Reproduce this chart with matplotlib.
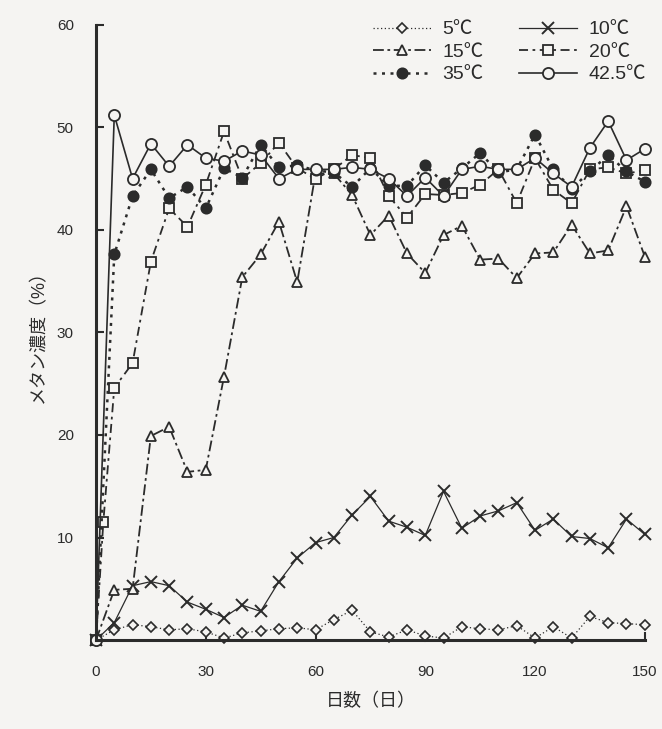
import matplotlib
matplotlib.use("Agg")
import matplotlib.pyplot as plt

plt.rcParams['font.family'] = ['Liberation Sans', 'Noto Sans CJK JP', 'DejaVu Sans']

# days sampled (every 5 days)
days = list(range(0, 155, 5))

t5 = [0, 1.0, 1.5, 1.3, 1.0, 1.1, 0.8, 0.2, 0.7, 0.9, 1.1, 1.2, 1.0, 2.0, 2.9, 0.8,
      0.3, 1.0, 0.4, 0.2, 1.3, 1.1, 1.0, 1.4, 0.2, 1.3, 0.2, 2.3, 1.7, 1.6, 1.5]
t10 = [0, 1.7, 5.3, 5.7, 5.3, 3.7, 3.0, 2.2, 3.4, 2.8, 5.7, 8.0, 9.5, 10.0, 12.2, 14.0,
       11.6, 11.0, 10.2, 14.5, 10.9, 12.1, 12.6, 13.4, 10.7, 11.8, 10.1, 9.9, 9.0, 11.8, 10.3]
t15 = [0, 4.9, 5.0, 19.9, 20.8, 16.4, 16.6, 25.7, 35.4, 37.6, 40.8, 34.9, 45.5, 45.5, 43.4, 39.5,
       41.4, 37.7, 35.8, 39.5, 40.4, 37.1, 37.2, 35.3, 37.7, 37.8, 40.5, 37.7, 38.0, 42.3, 37.4]
t20_days = [0, 2] + days[1:]
t20 = [0, 11.5, 24.6, 27.0, 36.9, 42.1, 40.3, 44.4, 49.6, 45.0, 46.5, 48.5, 46.0, 45.0, 45.9, 47.3,
       47.0, 43.3, 41.2, 43.5, 43.4, 43.6, 44.4, 45.9, 42.6, 47.0, 43.9, 42.6, 45.9, 46.1, 45.5, 45.8]
t35 = [0, 37.6, 43.3, 45.9, 43.1, 44.2, 42.1, 46.0, 45.1, 48.3, 46.1, 46.3, 45.8, 45.6, 44.2, 46.0,
       44.3, 44.3, 46.3, 44.6, 46.0, 47.5, 45.6, 45.9, 49.3, 45.9, 44.0, 45.7, 47.3, 45.7, 44.7]
t42 = [0, 51.2, 45.0, 48.4, 46.2, 48.3, 47.0, 46.7, 47.7, 47.3, 45.0, 45.9, 45.9, 45.9, 46.1, 45.9,
       45.0, 43.3, 45.1, 43.3, 45.9, 46.2, 45.9, 45.9, 47.0, 45.5, 44.2, 48.0, 50.6, 46.8, 47.9]

ink = '#2b2b2b'
bg = '#f5f4f2'

fig = plt.figure(figsize=(6.62, 7.29), dpi=100, facecolor=bg)
ax = fig.add_axes([0.145, 0.122, 0.829, 0.844], facecolor=bg)

common = dict(color=ink, markerfacecolor=bg, markeredgecolor=ink, clip_on=False)
l5, = ax.plot(days, t5, ls=(0, (1, 2)), lw=0.9, marker='D', ms=5, mew=1.2, label='5℃', **common)
l10, = ax.plot(days, t10, ls='-', lw=0.9, marker='x', ms=8, mew=1.4, label='10℃', **common)
l15, = ax.plot(days, t15, ls=(0, (6, 2, 1.5, 2)), lw=1.3, marker='^', ms=7, mew=1.3, label='15℃', **common)
l20, = ax.plot(t20_days, t20, ls=(0, (5, 2.5, 1.5, 2.5)), lw=1.3, marker='s', ms=7, mew=1.3, label='20℃', **common)
l35, = ax.plot(days, t35, ls=(0, (1.2, 2.2)), lw=1.8, marker='o', ms=7.5, mew=1.2,
               color=ink, markerfacecolor=ink, markeredgecolor=ink, clip_on=False, label='35℃')
l42, = ax.plot(days, t42, ls='-', lw=1.2, marker='o', ms=8, mew=1.3, label='42.5℃', **common)

ax.set_xlim(0, 150)
ax.set_ylim(0, 60)
ax.set_xticks([0, 30, 60, 90, 120, 150])
ax.set_yticks([10, 20, 30, 40, 50, 60])
for s in ['top', 'right']:
    ax.spines[s].set_visible(False)
for s in ['left', 'bottom']:
    ax.spines[s].set_linewidth(2.2)
    ax.spines[s].set_color(ink)
ax.tick_params(direction='in', length=6, width=1.5, colors=ink, labelsize=11)
ax.tick_params(axis='y', pad=16)
ax.tick_params(axis='x', pad=18)

ax.set_xlabel('日数（日）', fontsize=13, color=ink, labelpad=10)
ax.set_ylabel('メタン濃度（%）', fontsize=13, color=ink, labelpad=7)

ax.legend(handles=[l5, l15, l35, l10, l20, l42], ncol=2, loc='upper right',
          bbox_to_anchor=(1.035, 1.035), frameon=False, fontsize=14, handlelength=3.0,
          handletextpad=0.6, columnspacing=1.8, labelspacing=0.25, labelcolor=ink)

fig.savefig('out.png', dpi=100, facecolor=bg)
